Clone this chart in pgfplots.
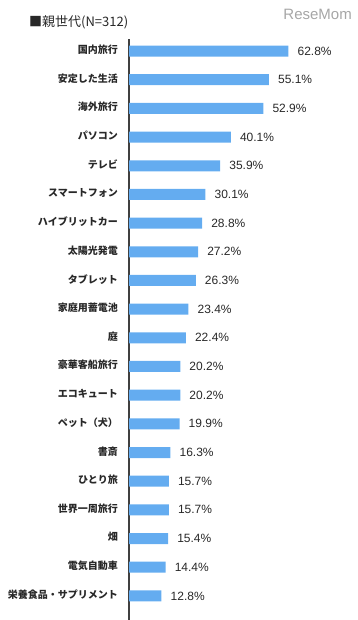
\documentclass[border=0pt]{standalone}
\usepackage{pgfplots}
\pgfplotsset{compat=1.18}
\usepackage{fontspec}
\setmainfont{Liberation Sans}
\newfontfamily\jp{Noto Sans CJK JP}
\definecolor{barblue}{RGB}{100,172,240}
\definecolor{txt}{RGB}{40,40,40}
\begin{document}
\begin{tikzpicture}
\path[use as bounding box] (0,0) rectangle (357pt,-620pt);
\node[anchor=west, inner sep=0pt, font=\fontsize{13pt}{15pt}\selectfont\jp, text=txt] at (29pt,-22pt) {■親世代(N=312)};
\node[anchor=east, inner sep=0pt, font=\fontsize{15pt}{17pt}\selectfont, text=black!35] at (352pt,-14pt) {ReseMom};
\begin{axis}[
  at={(129pt,-39pt)}, anchor=north west,
  scale only axis, width=228pt, height=581pt,
  xmin=0, xmax=89.8, ymin=-0.84, ymax=19.42,
  axis x line=none,
  axis y line*=left,
  y axis line style={-, draw=black!75, line width=1.2pt},
  ytick={0,...,19},
  yticklabels={栄養食品・サプリメント,電気自動車,畑,世界一周旅行,ひとり旅,書斎,ペット（犬）,エコキュート,豪華客船旅行,庭,家庭用蓄電池,タブレット,太陽光発電,ハイブリットカー,スマートフォン,テレビ,パソコン,海外旅行,安定した生活,国内旅行},
  yticklabel style={font=\fontsize{10pt}{12pt}\selectfont\jp\bfseries, text=txt, inner sep=0pt},
  major tick length=0pt,
  ytick style={draw=none},
  typeset ticklabels with strut,
  yticklabel shift=11pt,
  xbar, bar width=11pt, bar shift=0pt,
  nodes near coords={\pgfmathprintnumber[fixed,precision=1,fixed zerofill,assume math mode=true]{\pgfplotspointmeta}\%},
  nodes near coords style={anchor=west, inner sep=0pt, xshift=9pt, font=\fontsize{12pt}{14pt}\selectfont, text=txt},
  point meta=explicit,
  clip=false,
]
\addplot[fill=barblue, draw=none] table[x=v, y=i, meta=v] {
i v
19 62.8
18 55.1
17 52.9
16 40.1
15 35.9
14 30.1
13 28.8
12 27.2
11 26.3
10 23.4
9 22.4
8 20.2
7 20.2
6 19.9
5 16.3
4 15.7
3 15.7
2 15.4
1 14.4
0 12.8
};
\end{axis}
\end{tikzpicture}
\end{document}
